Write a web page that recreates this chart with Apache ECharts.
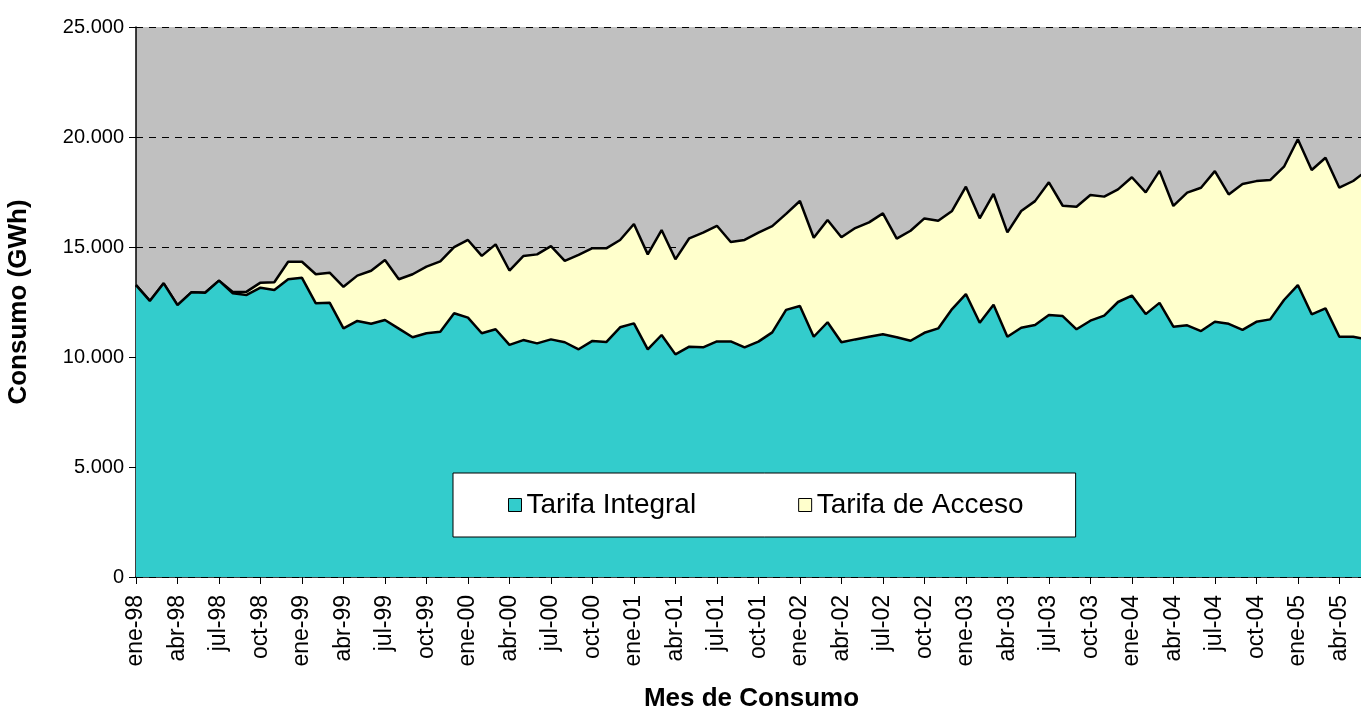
<!DOCTYPE html>
<html lang="es">
<head>
<meta charset="UTF-8">
<title>Consumo por tarifa</title>
<script src="https://cdn.jsdelivr.net/npm/echarts@6/dist/echarts.min.js"></script>
<style>
    html, body { margin: 0; padding: 0; background: #fff; }
    #chart { width: 1361px; height: 709px; }
</style>
</head>
<body>
<div id="chart"></div>
<script>
// meses ene-98 .. jun-05
const meses = ['ene', 'feb', 'mar', 'abr', 'may', 'jun', 'jul', 'ago', 'sep', 'oct', 'nov', 'dic'];
const anios = ['98', '99', '00', '01', '02', '03', '04', '05'];
const categorias = [];
anios.forEach(a => meses.forEach(m => categorias.push(m + '-' + a)));
categorias.length = 90;

// GWh
const tarifaIntegral = [
    13270, 12550, 13350, 12360, 12940, 12920, 13470, 12900, 12820, 13150,
    13050, 13530, 13600, 12440, 12470, 11300, 11640, 11510, 11680, 11290,
    10900, 11080, 11150, 11990, 11790, 11080, 11260, 10550, 10770, 10620,
    10800, 10670, 10350, 10730, 10680, 11350, 11530, 10350, 11000, 10120,
    10470, 10440, 10710, 10710, 10440, 10700, 11120, 12140, 12320, 10920,
    11580, 10670, 10800, 10920, 11030, 10900, 10740, 11100, 11300, 12180,
    12860, 11560, 12380, 10920, 11330, 11450, 11910, 11860, 11260, 11650,
    11880, 12500, 12790, 11950, 12460, 11380, 11440, 11180, 11600, 11510,
    11230, 11600, 11710, 12590, 13270, 11940, 12210, 10920, 10920, 10800
];
const tarifaAcceso = [
    0, 0, 0, 0, 0, 0, 0, 60, 150, 230,
    350, 800, 730, 1320, 1360, 1890, 2060, 2410, 2730, 2245,
    2860, 3030, 3200, 3000, 3530, 3515, 3860, 3380, 3820, 4045,
    4240, 3700, 4290, 4215, 4260, 3970, 4515, 4315, 4770, 4320,
    4925, 5210, 5255, 4515, 4880, 4955, 4830, 4365, 4770, 4500,
    4650, 4775, 5060, 5200, 5500, 4480, 5000, 5200, 4890, 4460,
    4880, 4745, 5030, 4745, 5305, 5635, 6030, 5015, 5570, 5715,
    5410, 5120, 5380, 5530, 6000, 5485, 6030, 6515, 6850, 5880,
    6635, 6395, 6330, 6060, 6625, 6560, 6845, 6775, 7080, 7680
];

const fuente = 'Liberation Sans, Arial, sans-serif';
const chart = echarts.init(document.getElementById('chart'));

chart.setOption({
    animation: false,
    textStyle: { fontFamily: fuente, color: '#000' },
    grid: {
        left: 136, right: -6, top: 27, bottom: 132,
        containLabel: false,
        outerBoundsMode: 'none',
        show: true, backgroundColor: '#C0C0C0', borderWidth: 0
    },
    legend: {
        left: 453, top: 473,
        backgroundColor: '#fff', borderColor: '#000', borderWidth: 1,
        padding: [18, 52, 18, 55],
        icon: 'rect', itemWidth: 13, itemHeight: 13, itemGap: 102,
        itemStyle: { borderColor: '#000', borderWidth: 1 },
        textStyle: { fontFamily: fuente, fontSize: 28, color: '#000', lineHeight: 28 },
        data: ['Tarifa Integral', 'Tarifa de Acceso']
    },
    xAxis: {
        type: 'category',
        data: categorias,
        boundaryGap: false,
        name: 'Mes de Consumo',
        nameLocation: 'middle',
        nameGap: 109,
        nameTextStyle: { fontFamily: fuente, fontSize: 26, fontWeight: 'bold', color: '#000' },
        axisLine: { lineStyle: { color: '#000', width: 1.5 } },
        axisTick: { interval: 2, length: 7, lineStyle: { color: '#000' } },
        axisLabel: { interval: 2, rotate: 90, margin: 18, fontSize: 23, color: '#000', fontFamily: fuente },
        splitLine: { show: false }
    },
    yAxis: {
        type: 'value',
        min: 0, max: 25000, interval: 5000,
        name: 'Consumo (GWh)',
        nameLocation: 'middle',
        nameGap: 104,
        nameTextStyle: { fontFamily: fuente, fontSize: 26, fontWeight: 'bold', color: '#000' },
        axisLine: { show: true, lineStyle: { color: '#000', width: 1.5 } },
        axisTick: { show: true, length: 7, lineStyle: { color: '#000' } },
        axisLabel: {
            margin: 12, fontSize: 20, color: '#000', fontFamily: fuente,
            formatter: v => String(v).replace(/\B(?=(\d{3})+(?!\d))/g, '.')
        },
        splitLine: { show: true, lineStyle: { color: '#000', width: 1, type: [7, 6] } }
    },
    series: [
        {
            name: 'Tarifa Integral',
            type: 'line',
            stack: 'total',
            data: tarifaIntegral,
            z: 3,
            color: '#33CCCC',
            showSymbol: false,
            symbol: 'none',
            lineStyle: { color: '#000', width: 2.5 },
            areaStyle: { color: '#33CCCC', opacity: 1 }
        },
        {
            name: 'Tarifa de Acceso',
            type: 'line',
            stack: 'total',
            data: tarifaAcceso,
            z: 2,
            color: '#FFFFCC',
            showSymbol: false,
            symbol: 'none',
            lineStyle: { color: '#000', width: 2.5 },
            areaStyle: { color: '#FFFFCC', opacity: 1 }
        }
    ]
});
</script>
</body>
</html>
